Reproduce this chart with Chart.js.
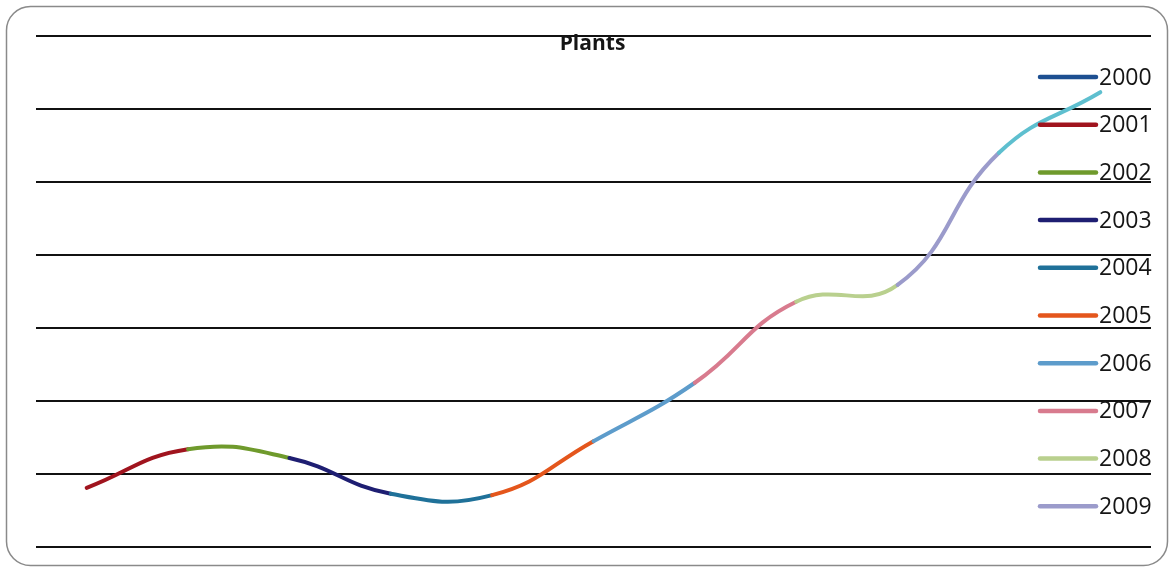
<!DOCTYPE html>
<html>
<head>
<meta charset="utf-8">
<title>Plants</title>
<script src="https://cdn.jsdelivr.net/npm/chart.js@4.4.1/dist/chart.umd.min.js"></script>
<style>
  html, body { margin: 0; padding: 0; background: #ffffff; }
  #wrap { width: 1174px; height: 571px; position: relative; }
</style>
</head>
<body>
<div id="wrap"><canvas id="chart" width="1174" height="571"></canvas></div>
<script>
// Yearly points of the plant curve; each segment ending at a year takes that year's colour.
const categories = ['2000', '2001', '2002', '2003', '2004', '2005', '2006', '2007', '2008', '2009', '2010'];
const plantValues = [0.81, 1.34, 1.22, 0.73, 0.71, 1.45, 2.25, 3.36, 3.59, 5.40, 6.23];
const yearColors = ['#1d4f91', '#a0141e', '#6f9a2c', '#1e1e72', '#1f7199', '#e4561c',
                    '#5d9ccb', '#d87b8e', '#b9d08e', '#9b9bcb', '#5ebfcf'];
// Legend shows the first ten years only.
const legendYears = ['2000', '2001', '2002', '2003', '2004', '2005', '2006', '2007', '2008', '2009'];
const yTicks = { min: 0, max: 7, step: 1 };
const chartTitle = 'Plants';

const FONT = "'Open Sans', 'Liberation Sans', sans-serif";

// White card with a rounded grey outline behind the chart.
const framePlugin = {
  id: 'frame',
  beforeDraw(chart) {
    const ctx = chart.ctx;
    ctx.save();
    ctx.fillStyle = '#ffffff';
    ctx.fillRect(0, 0, chart.width, chart.height);
    const x = 6.5, y = 6.5, w = chart.width - 13, h = chart.height - 12, r = 24;
    ctx.beginPath();
    ctx.moveTo(x + r, y);
    ctx.lineTo(x + w - r, y);
    ctx.arcTo(x + w, y, x + w, y + r, r);
    ctx.lineTo(x + w, y + h - r);
    ctx.arcTo(x + w, y + h, x + w - r, y + h, r);
    ctx.lineTo(x + r, y + h);
    ctx.arcTo(x, y + h, x, y + h - r, r);
    ctx.lineTo(x, y + r);
    ctx.arcTo(x, y, x + r, y, r);
    ctx.closePath();
    ctx.strokeStyle = '#8a8a8a';
    ctx.lineWidth = 1.5;
    ctx.stroke();
    ctx.restore();
  }
};

// Title and legend are drawn inside the plot area, over the grid.
const overlayPlugin = {
  id: 'overlay',
  afterDatasetsDraw(chart) {
    const ctx = chart.ctx;
    const area = chart.chartArea;
    ctx.save();
    ctx.fillStyle = '#151515';
    ctx.font = `bold 21px ${FONT}`;
    ctx.textAlign = 'center';
    ctx.textBaseline = 'middle';
    ctx.fillText(chartTitle, (area.left + area.right) / 2 - 1, area.top + 8);

    ctx.font = `23px ${FONT}`;
    ctx.textAlign = 'left';
    const lineStart = area.right - 111;
    const lineEnd = area.right - 55;
    legendYears.forEach((yr, i) => {
      const y = area.top + 41 + i * 47.7;
      ctx.beginPath();
      ctx.moveTo(lineStart, y);
      ctx.lineTo(lineEnd, y);
      ctx.strokeStyle = yearColors[i];
      ctx.lineWidth = 4.5;
      ctx.lineCap = 'round';
      ctx.stroke();
      ctx.fillStyle = '#151515';
      ctx.fillText(yr, lineEnd + 3, y + 1);
    });
    ctx.restore();
  }
};

new Chart(document.getElementById('chart'), {
  type: 'line',
  data: {
    labels: categories,
    datasets: [{
      label: chartTitle,
      data: plantValues,
      borderWidth: 4,
      borderCapStyle: 'round',
      tension: 0.45,
      pointRadius: 0,
      pointHoverRadius: 0,
      fill: false,
      segment: {
        borderColor: c => yearColors[c.p1DataIndex]
      }
    }]
  },
  options: {
    responsive: false,
    animation: false,
    events: [],
    layout: { padding: { left: 36, right: 23, top: 36, bottom: 24 } },
    plugins: {
      legend: { display: false },
      title: { display: false },
      tooltip: { enabled: false }
    },
    scales: {
      x: {
        type: 'category',
        offset: true,
        display: false
      },
      y: {
        min: yTicks.min,
        max: yTicks.max,
        ticks: { stepSize: yTicks.step, display: false },
        border: { display: false },
        grid: { color: '#111111', lineWidth: 2, drawTicks: false }
      }
    }
  },
  plugins: [framePlugin, overlayPlugin]
});
</script>
</body>
</html>
